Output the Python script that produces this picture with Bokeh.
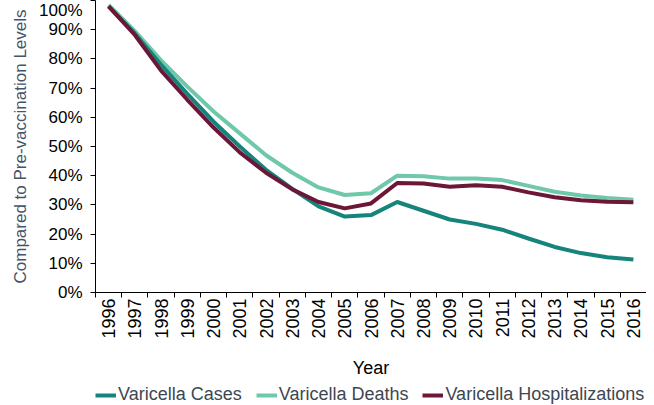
from bokeh.plotting import figure
from bokeh.models import (Range1d, FixedTicker, PrintfTickFormatter, Legend, LegendItem)
from bokeh.layouts import column
from bokeh.embed import file_html
from bokeh.resources import INLINE
import math

years = list(range(1996, 2017))
cases = [98, 88.7, 78, 68, 58.5, 50, 42, 35.5, 29.5, 26, 26.5, 31, 28, 25, 23.5, 21.5, 18.5, 15.6, 13.5, 12.1, 11.3]
deaths = [98.5, 89.5, 79.5, 70.5, 62, 54.5, 47, 41, 36, 33.4, 34, 40, 39.8, 39, 39, 38.5, 36.5, 34.5, 33.2, 32.4, 31.8]
hosp = [98, 88.2, 76, 66, 56.5, 48, 41, 35.3, 31, 28.8, 30.5, 37.5, 37.3, 36.2, 36.7, 36.2, 34.3, 32.6, 31.6, 31.1, 30.9]
y_ticks = list(range(0, 101, 10))
series_names = ["Varicella Cases", "Varicella Deaths", "Varicella Hospitalizations"]

FONT = "Liberation Sans"
C_CASES = "#15847a"
C_DEATHS = "#6fc8a9"
C_HOSP = "#6c1738"

p = figure(width=646, height=380, output_backend="svg", toolbar_location=None,
           x_range=Range1d(years[0] - 0.5, years[-1] + 0.5), y_range=Range1d(0, 100),
           min_border_left=95, min_border_right=0, min_border_top=0, min_border_bottom=80)
p.outline_line_color = None
p.xgrid.grid_line_color = None
p.ygrid.grid_line_color = None
p.background_fill_color = "white"
p.border_fill_color = "white"

p.line(years, deaths, line_color=C_DEATHS, line_width=4)
p.line(years, cases, line_color=C_CASES, line_width=4)
p.line(years, hosp, line_color=C_HOSP, line_width=4)

# y axis
ya = p.yaxis[0]
ya.ticker = FixedTicker(ticks=y_ticks)
ya.formatter = PrintfTickFormatter(format="%d%%")
ya.axis_line_color = "black"
ya.major_tick_line_color = "black"
ya.major_tick_out = 5
ya.major_tick_in = 0
ya.minor_tick_line_color = None
ya.major_label_standoff = 8
ya.major_label_text_font = FONT
ya.major_label_text_font_size = "17px"
ya.major_label_text_color = "black"
ya.axis_label = "Compared to Pre-vaccination Levels"
ya.axis_label_text_font = FONT
ya.axis_label_text_font_size = "17px"
ya.axis_label_text_font_style = "normal"
ya.axis_label_text_color = "#44546a"
ya.axis_label_standoff = 6

# x axis
xa = p.xaxis[0]
xa.ticker = FixedTicker(ticks=years, minor_ticks=[y - 0.5 for y in years] + [years[-1] + 0.5])
xa.major_tick_line_color = None
xa.minor_tick_line_color = "black"
xa.minor_tick_out = 5
xa.minor_tick_in = 0
xa.axis_line_color = "black"
xa.major_label_orientation = math.pi / 2
xa.major_label_standoff = 0
xa.major_label_text_font = FONT
xa.major_label_text_font_size = "18px"
xa.major_label_text_color = "black"
xa.axis_label = "Year"
xa.axis_label_text_font = FONT
xa.axis_label_text_font_size = "18px"
xa.axis_label_text_font_style = "normal"
xa.axis_label_text_color = "black"
xa.axis_label_standoff = 16

# legend strip below the chart (its frame is aligned with the chart's frame)
lg = figure(width=646, height=25, output_backend="svg", toolbar_location=None,
            x_range=Range1d(0, 1), y_range=Range1d(0, 1),
            x_axis_type=None, y_axis_type=None, min_border=0)
lg.outline_line_color = None
lg.xgrid.grid_line_color = None
lg.ygrid.grid_line_color = None
# series drawn out of this strip's view; used only for the legend swatches
lg_c = lg.line(years, cases, line_color=C_CASES, line_width=4)
lg_d = lg.line(years, deaths, line_color=C_DEATHS, line_width=4)
lg_h = lg.line(years, hosp, line_color=C_HOSP, line_width=4)
legend = Legend(items=[LegendItem(label=series_names[0], renderers=[lg_c]),
                       LegendItem(label=series_names[1], renderers=[lg_d]),
                       LegendItem(label=series_names[2], renderers=[lg_h])],
                orientation="horizontal", location="bottom_left",
                label_text_font=FONT, label_text_font_size="18px", label_text_color="#3d4752",
                glyph_width=21, glyph_height=18, label_standoff=2, spacing=14,
                padding=0, margin=0, border_line_color=None, background_fill_alpha=0)
lg.add_layout(legend, "center")

open("out.html", "w").write(file_html(column(p, lg, spacing=0), INLINE))
